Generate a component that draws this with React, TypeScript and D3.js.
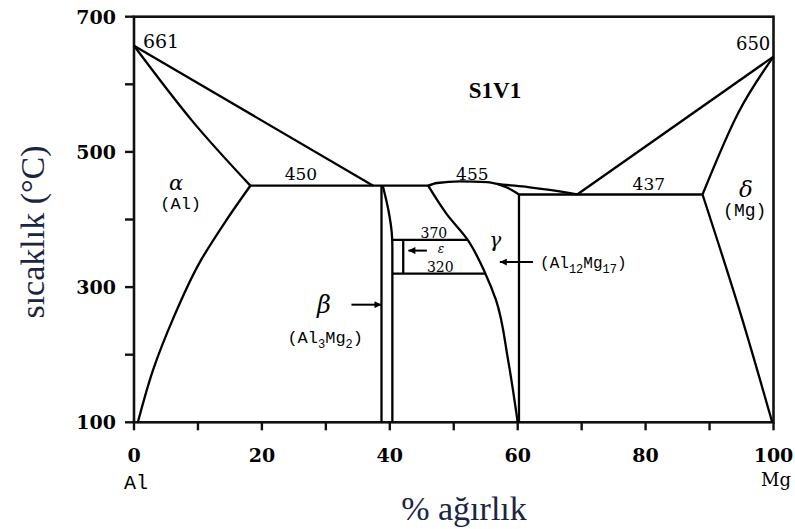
import * as d3 from "d3";

const W = 795;
const H = 529;

type Pt = [number, number];

// phase boundaries: [wt% Mg, temperature °C]
const liquidusAl: Pt[] = [[0, 657], [37.4, 450]];
const solidusAl: Pt[] = [[0, 657], [9, 547], [18.2, 450]];
const solvusAl: Pt[] = [[18.2, 450], [14.3, 397], [10.3, 337], [6.1, 253], [3.0, 178], [0.6, 100]];
const eutectic450: Pt[] = [[18.2, 450], [46, 450]];
const betaLeft: Pt[] = [[38.7, 450], [38.7, 100]];
const betaRight: Pt[] = [[38.9, 450], [39.8, 413], [40.3, 381], [40.4, 360], [40.4, 100]];
const gammaLiquidus: Pt[] = [[46, 450], [47.4, 454], [51, 456.5], [55.2, 455.2], [56.8, 452.8], [61.6, 448], [65, 443.7], [69.3, 437]];
const gammaSolidus: Pt[] = [[56.8, 452.8], [58.3, 447.4], [60.2, 437]];
const gammaSolvus: Pt[] = [[46, 450], [48.9, 408], [52.1, 371], [54.9, 321], [56.6, 281], [58.5, 192], [60, 100]];
const gammaRight: Pt[] = [[60.2, 437], [60.2, 100]];
const eutectic437: Pt[] = [[60.2, 437], [88.9, 437]];
const liquidusMg: Pt[] = [[69.3, 437], [100, 641]];
const solidusMg: Pt[] = [[88.9, 437], [94.5, 558], [100, 641]];
const solvusMg: Pt[] = [[88.9, 437], [95, 256], [99.8, 100]];
const epsTop: Pt[] = [[40.4, 370], [52.1, 370]];
const epsBottom: Pt[] = [[40.4, 320], [54.9, 320]];
const epsInner: Pt[] = [[42.1, 370], [42.1, 320]];

// arrows: [from, to] (head at "to")
const arrowEps: Pt[] = [[45.8, 354], [42.9, 354]];
const arrowBeta: Pt[] = [[34.0, 274], [38.7, 274]];
const arrowGamma: Pt[] = [[62.4, 337], [57.2, 337]];

const xMajor = [0, 20, 40, 60, 80, 100];
const xMinor = [10, 30, 50, 70, 90];
const yMajor = [100, 300, 500, 700];
const yMinor = [200, 400, 600];

const straight = [liquidusAl, eutectic450, betaLeft, gammaRight, eutectic437, liquidusMg, epsTop, epsBottom, epsInner];
// curves that run mostly sideways / mostly downwards
const curvedX = [solidusAl, gammaLiquidus, gammaSolidus, solidusMg];
const curvedY = [solvusAl, betaRight, gammaSolvus, solvusMg];

export default function App() {
  const x = d3.scaleLinear().domain([0, 100]).range([134, 773.5]);
  const y = d3.scaleLinear().domain([100, 700]).range([422.3, 16.7]);

  const line = d3.line<Pt>().x((d) => x(d[0])).y((d) => y(d[1]));
  const lineX = d3
    .line<Pt>()
    .x((d) => x(d[0]))
    .y((d) => y(d[1]))
    .curve(d3.curveMonotoneX);
  const lineY = d3
    .line<Pt>()
    .x((d) => x(d[0]))
    .y((d) => y(d[1]))
    .curve(d3.curveMonotoneY);

  const byX = (d: Pt[]) => [...d].sort((a, b) => a[0] - b[0]);
  const byT = (d: Pt[]) => [...d].sort((a, b) => b[1] - a[1]);

  const tickFont = { fontFamily: "DejaVu Serif", fontWeight: "bold", fontSize: 19 } as const;
  const numFont = { fontFamily: "DejaVu Serif", fontSize: 17 } as const;
  const monoFont = { fontFamily: "Liberation Mono", fontSize: 17 } as const;
  const greek = { fontFamily: "DejaVu Serif", fontStyle: "italic", fontSize: 21 } as const;
  const navy = "#1b2443";

  return (
    <svg
      width={W}
      height={H}
      style={{ position: "absolute", left: 0, top: 0, background: "#fff" }}
    >
      <defs>
        <marker id="head" viewBox="0 0 10 10" refX="10" refY="5" markerWidth="9" markerHeight="7" orient="auto" markerUnits="userSpaceOnUse">
          <path d="M0,0 L10,5 L0,10 z" fill="#000" />
        </marker>
      </defs>

      {/* frame */}
      <rect x={x(0)} y={y(700)} width={x(100) - x(0)} height={y(100) - y(700)} fill="none" stroke="#111" strokeWidth={2.6} />

      {/* x ticks */}
      {[...xMajor, ...xMinor].map((t) => (
        <line key={"xt" + t} x1={x(t)} x2={x(t)} y1={y(100)} y2={y(100) + 8} stroke="#111" strokeWidth={2.4} />
      ))}
      {xMajor.map((t) => (
        <text key={"xl" + t} x={x(t)} y={462} textAnchor="middle" {...tickFont}>
          {t}
        </text>
      ))}
      <text x={x(0) + 2} y={489} textAnchor="middle" fontFamily="Liberation Mono" fontSize={20}>Al</text>
      <text x={791} y={486} textAnchor="end" fontFamily="DejaVu Serif" fontSize={18}>Mg</text>

      {/* y ticks */}
      {[...yMajor, ...yMinor].map((t) => (
        <line key={"yt" + t} x1={x(0) - 9} x2={x(0)} y1={y(t)} y2={y(t)} stroke="#111" strokeWidth={2.4} />
      ))}
      {yMajor.map((t) => (
        <text key={"yl" + t} x={116} y={y(t)} dy="0.36em" textAnchor="end" {...tickFont}>
          {t}
        </text>
      ))}

      {/* phase boundaries */}
      {straight.map((d, i) => (
        <path key={"s" + i} d={line(d) ?? ""} fill="none" stroke="#000" strokeWidth={2.3} />
      ))}
      {curvedX.map((d, i) => (
        <path key={"cx" + i} d={lineX(byX(d)) ?? ""} fill="none" stroke="#000" strokeWidth={2.3} />
      ))}
      {curvedY.map((d, i) => (
        <path key={"cy" + i} d={lineY(byT(d)) ?? ""} fill="none" stroke="#000" strokeWidth={2.3} />
      ))}

      {/* arrows */}
      {[arrowEps, arrowBeta, arrowGamma].map((d, i) => (
        <line key={"a" + i} x1={x(d[0][0])} y1={y(d[0][1])} x2={x(d[1][0])} y2={y(d[1][1])} stroke="#000" strokeWidth={2} markerEnd="url(#head)" />
      ))}

      {/* point labels */}
      <text x={x(1.4)} y={y(653)} {...numFont} fontSize={19}>661</text>
      <text x={x(99.5)} y={y(651)} textAnchor="end" {...numFont} fontSize={18}>650</text>
      <text x={x(26.1)} y={y(457.7)} textAnchor="middle" {...numFont}>450</text>
      <text x={x(52.9)} y={y(459)} textAnchor="middle" {...numFont}>455</text>
      <text x={x(80.5)} y={y(444)} textAnchor="middle" {...numFont}>437</text>
      <text x={x(46.9)} y={y(372)} textAnchor="middle" {...numFont} fontSize={14}>370</text>
      <text x={x(47.9)} y={y(322.5)} textAnchor="middle" {...numFont} fontSize={14}>320</text>

      <text x={495} y={98} textAnchor="middle" fontFamily="Liberation Serif" fontWeight="bold" fontSize={23}>S1V1</text>

      {/* phase labels */}
      <text x={x(6.6)} y={y(443)} textAnchor="middle" {...greek}>α</text>
      <text x={x(7.3)} y={y(415)} textAnchor="middle" {...monoFont}>(Al)</text>
      <text x={x(95.7)} y={y(434)} textAnchor="middle" {...greek} fontSize={23}>δ</text>
      <text x={x(95.5)} y={y(404.5)} textAnchor="middle" {...monoFont} fontSize={18}>(Mg)</text>
      <text x={x(56.5)} y={y(360)} textAnchor="middle" {...greek} fontSize={20}>γ</text>
      <text x={x(48)} y={y(350)} textAnchor="middle" {...greek} fontSize={12}>ε</text>
      <text x={x(29.7)} y={y(261)} textAnchor="middle" {...greek} fontSize={24}>β</text>
      <text x={x(29.9)} y={y(216.8)} textAnchor="middle" {...monoFont} fontSize={17}>
        (Al<tspan fontSize={12} dy={5}>3</tspan>
        <tspan dy={-5}>Mg</tspan>
        <tspan fontSize={12} dy={5}>2</tspan>
        <tspan dy={-5}>)</tspan>
      </text>
      <text x={x(63.5)} y={y(327.6)} {...monoFont} fontSize={16}>
        (Al<tspan fontSize={12} dy={5}>12</tspan>
        <tspan dy={-5}>Mg</tspan>
        <tspan fontSize={12} dy={5}>17</tspan>
        <tspan dy={-5}>)</tspan>
      </text>

      {/* axis titles */}
      <text
        transform="translate(44,232) rotate(-90)"
        textAnchor="middle"
        fontFamily="Liberation Serif"
        fontSize={34}
        fill={navy}
      >
        sıcaklık (°C)
      </text>
      <text x={464} y={520} textAnchor="middle" fontFamily="Liberation Serif" fontSize={34} fill={navy}>
        % ağırlık
      </text>
    </svg>
  );
}
